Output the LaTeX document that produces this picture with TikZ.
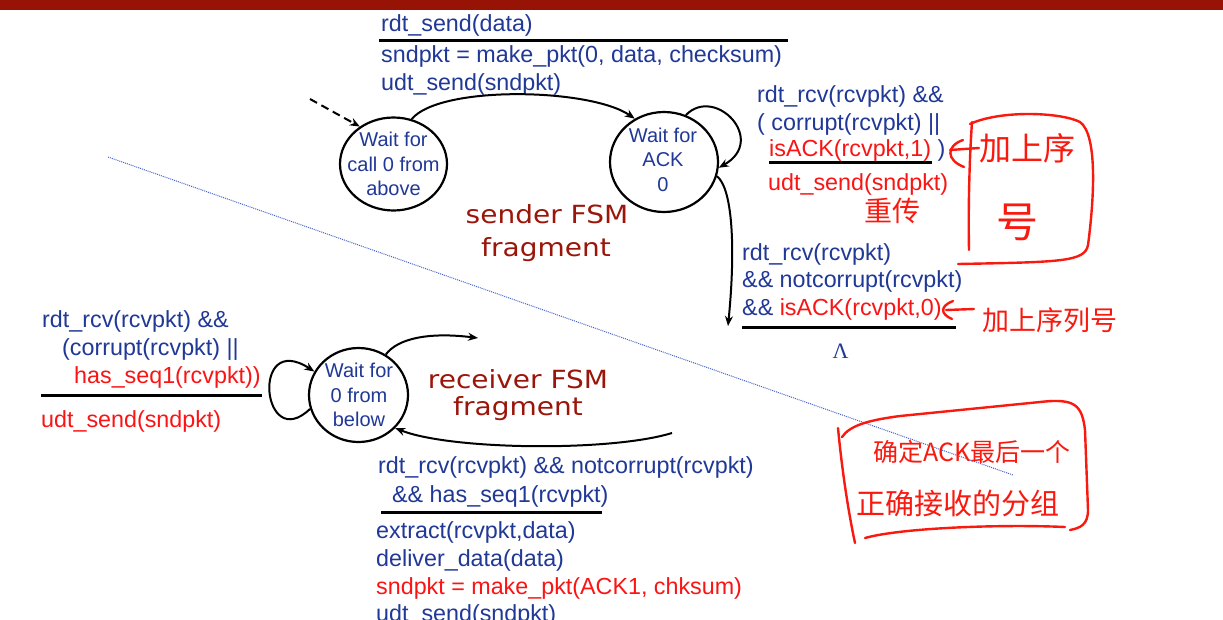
\documentclass[tikz,border=0pt]{standalone}
\usepackage{fontspec}
\setmainfont{Liberation Sans}
\newfontfamily\cjk{Noto Sans CJK SC}
\newfontfamily\comicf[FakeStretch=1.12]{DejaVu Sans}
\newfontfamily\seriff{Liberation Serif}
\usetikzlibrary{arrows.meta,shapes.geometric}
\definecolor{fsmblue}{RGB}{32,56,150}
\definecolor{fsmred}{RGB}{250,20,20}
\definecolor{fragred}{RGB}{155,22,10}
\definecolor{barred}{RGB}{150,19,5}
\definecolor{handred}{RGB}{250,25,15}
\definecolor{dotblue}{RGB}{70,100,200}
\begin{document}
\begin{tikzpicture}[x=1pt,y=-1pt,
 lbl/.style={anchor=base west,inner sep=0pt,text=fsmblue,font=\fontsize{23.3}{28}\selectfont},
 rlbl/.style={lbl,text=fsmred},
 state/.style={ellipse,draw=black,line width=2.2pt,inner sep=0pt},
 stxt/.style={align=center,inner sep=0pt,text=fsmblue,font=\fontsize{20}{24.5}\selectfont},
 conn/.style={draw=black,line width=2pt,-{Stealth[length=10pt,width=8pt]}},
 bar/.style={draw=black,line width=3pt},
 frag/.style={inner sep=0pt,text=fragred,font=\comicf\fontsize{25}{30}\selectfont,anchor=base},
 handline/.style={draw=handred,line width=2.4pt,line cap=round,line join=round},
 handtxt/.style={inner sep=0pt,text=handred,font=\cjk\fontsize{28}{32}\selectfont}
]
\useasboundingbox (0,0) rectangle (1223,619);
\clip (0,0) rectangle (1223,619);
\fill[white] (0,0) rectangle (1223,619);
\fill[barred] (0,0) rectangle (1223,10);

% dotted separator
\coordinate (dotA) at (108,157);
\coordinate (dotB) at (1013,475);
\draw[dotblue,line width=1pt,densely dotted] (dotA) -- (dotB);

% states
\node[state,minimum width=107pt,minimum height=93pt] (s0) at (393.5,164) {};
\node[stxt] (s0t) at (393.5,164) {Wait for\\call 0 from\\above};
\node[state,minimum width=108pt,minimum height=100pt] (s1) at (664,162) {};
\node[stxt] (s1t) at (663,159.5) {Wait for\\ACK\\0};
\node[state,minimum width=99pt,minimum height=94pt] (r0) at (358.5,395) {};
\node[stxt] (r0t) at (359,395) {Wait for\\0 from\\below};

% sender top label
\node[lbl] (t1) at (381,31) {rdt\_send(data)};
\draw[bar] (379,40.5) -- (788,40.5);
\node[lbl] (t2) at (381,62) {sndpkt = make\_pkt(0, data, checksum)};
\node[lbl] (t3) at (381,90) {udt\_send(sndpkt)};

% sender right label
\node[lbl] (u1) at (757,102) {rdt\_rcv(rcvpkt) \&\&};
\node[lbl] (u2) at (757,130) {( corrupt(rcvpkt) ||};
\node[lbl] (u3) at (769,156) {\textcolor{fsmred}{isACK(rcvpkt,1)} )};
\draw[bar] (769,162.5) -- (932,162.5);
\node[rlbl] (u4) at (768,190) {udt\_send(sndpkt)};

% sender lower label
\node[lbl] (v1) at (742,260) {rdt\_rcv(rcvpkt)};
\node[lbl] (v2) at (742,287) {\&\& notcorrupt(rcvpkt)};
\node[lbl] (v3) at (742,315) {\&\& \textcolor{fsmred}{isACK(rcvpkt,0)}};
\draw[bar] (742,327) -- (956,327);
\node[anchor=base,inner sep=0pt,text=fsmblue,font=\seriff\fontsize{22}{26}\selectfont] (lam) at (840.5,358) {Λ};

% receiver left label
\node[lbl] (w1) at (42,327) {rdt\_rcv(rcvpkt) \&\&};
\node[lbl] (w2) at (62,355) {(corrupt(rcvpkt) ||};
\node[rlbl] (w3) at (74,383) {has\_seq1(rcvpkt))};
\draw[bar] (41,395) -- (262,395);
\node[rlbl] (w4) at (41,427) {udt\_send(sndpkt)};

% receiver bottom label
\node[lbl] (x1) at (378,473) {rdt\_rcv(rcvpkt) \&\& notcorrupt(rcvpkt)};
\node[lbl] (x2) at (392,502) {\&\& has\_seq1(rcvpkt)};
\draw[bar] (381,512.5) -- (602,512.5);
\node[lbl] (x3) at (376,538) {extract(rcvpkt,data)};
\node[lbl] (x4) at (376,566) {deliver\_data(data)};
\node[rlbl] (x5) at (376,594) {sndpkt = make\_pkt(ACK1, chksum)};
\node[lbl] (x6) at (376,621) {udt\_send(sndpkt)};

% FSM fragment titles
\node[frag] (f1) at (547,223) {sender FSM};
\node[frag] (f2) at (546,256) {fragment};
\node[frag] (f3) at (518,388) {receiver FSM};
\node[frag] (f4) at (518,415) {fragment};

% connectors
\coordinate (init) at (310,99);
\draw[conn,dash pattern=on 8pt off 5pt] (init) -- (s0.132);
\draw[conn] (s0.68) .. controls (440,85) and (590,88) .. (s1.124);
\draw[conn] (s1.65) .. controls (715,85) and (768,140) .. (s1.-6);
\coordinate (s1out) at (728,326);
\draw[conn] (s1.-15) .. controls (732,188) and (736,245) .. (s1out);
\draw[conn] (r0.196) .. controls (262,455) and (250,330) .. (r0.152);
\coordinate (rtop) at (478,338);
\draw[conn] (r0.56) .. controls (398,338) and (430,332) .. (rtop);
\coordinate (rbot) at (672,433);
\draw[conn] (rbot) .. controls (610,452) and (450,450) .. (r0.-42);

% handwritten annotations
\draw[handline] (963,140) .. controls (946,146) and (946,160) .. (964,167);
\draw[handline] (950,150) -- (979,148);
\draw[handline] (969,250) .. controls (968,200) and (970,150) .. (972,122);
\draw[handline] (970,124) .. controls (1000,110) and (1060,112) .. (1080,122)
  .. controls (1098,135) and (1094,200) .. (1088,245)
  .. controls (1085,262) and (1060,262) .. (958,264);
\node[handtxt,font=\cjk\fontsize{32}{36}\selectfont] (h1) at (1027,148) {加上序};
\node[handtxt,font=\cjk\fontsize{42}{46}\selectfont] (h2) at (1017,222) {号};
\node[handtxt] (h3) at (892,211) {重传};

\draw[handline] (953,301) .. controls (940,306) and (940,314) .. (952,319);
\draw[handline] (946,310) -- (974,309);
\node[handtxt,font=\cjk\fontsize{27}{30}\selectfont] (h4) at (1050,320) {加上序列号};

\draw[handline] (838,428) .. controls (842,470) and (848,510) .. (855,543);
\draw[handline] (842,437) .. controls (850,425) and (870,420) .. (900,416) -- (1040,402)
  .. controls (1075,398) and (1082,405) .. (1085,430) -- (1088,510)
  .. controls (1088,525) and (1080,528) .. (1070,530);
\draw[handline] (865,538) .. controls (900,528) and (1000,524) .. (1065,527);
\node[handtxt,font=\cjk\fontsize{25}{28}\selectfont] (h5) at (972,452) {确定ACK最后一个};
\node[handtxt,font=\cjk\fontsize{29}{32}\selectfont] (h6) at (958,503) {正确接收的分组};
\end{tikzpicture}
\end{document}
